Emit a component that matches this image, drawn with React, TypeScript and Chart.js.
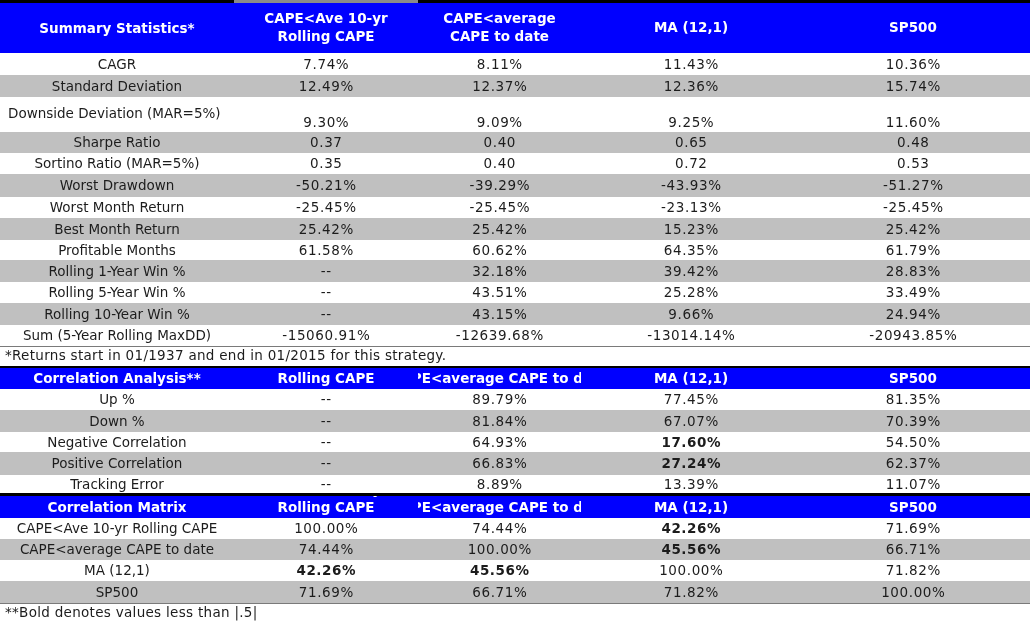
import React, { useEffect, useRef } from 'react';
import { Chart, registerables } from 'chart.js';

Chart.register(...registerables);

// ---------------- DATA ----------------
const strategyHeaders: string[][] = [
  ['CAPE<Ave 10-yr', 'Rolling CAPE'],
  ['CAPE<average', 'CAPE to date'],
  ['MA (12,1)'],
  ['SP500'],
];
const strategyHeadersOneLine: string[][] = [
  ['CAPE<Ave 10-yr', 'Rolling CAPE'],
  ['CAPE<average CAPE to date'],
  ['MA (12,1)'],
  ['SP500'],
];
const strategyNames = ['CAPE<Ave 10-yr Rolling CAPE', 'CAPE<average CAPE to date', 'MA (12,1)', 'SP500'];

const summaryTitle = 'Summary Statistics*';
const summaryLabels = [
  'CAGR',
  'Standard Deviation',
  'Downside Deviation (MAR=5%)',
  'Sharpe Ratio',
  'Sortino Ratio (MAR=5%)',
  'Worst Drawdown',
  'Worst Month Return',
  'Best Month Return',
  'Profitable Months',
  'Rolling 1-Year Win %',
  'Rolling 5-Year Win %',
  'Rolling 10-Year Win %',
  'Sum (5-Year Rolling MaxDD)',
];
const summaryIsRatio = [false, false, false, true, true, false, false, false, false, false, false, false, false];
const capeRolling10Summary = [7.74, 12.49, 9.3, 0.37, 0.35, -50.21, -25.45, 25.42, 61.58, null, null, null, -15060.91];
const capeAvgToDateSummary = [8.11, 12.37, 9.09, 0.4, 0.4, -39.29, -25.45, 25.42, 60.62, 32.18, 43.51, 43.15, -12639.68];
const ma121Summary = [11.43, 12.36, 9.25, 0.65, 0.72, -43.93, -23.13, 15.23, 64.35, 39.42, 25.28, 9.66, -13014.14];
const sp500Summary = [10.36, 15.74, 11.6, 0.48, 0.53, -51.27, -25.45, 25.42, 61.79, 28.83, 33.49, 24.94, -20943.85];
const summaryNote = '*Returns start in 01/1937 and end in 01/2015 for this strategy.';

const corrTitle = 'Correlation Analysis**';
const corrLabels = ['Up %', 'Down %', 'Negative Correlation', 'Positive Correlation', 'Tracking Error'];
const corrBoldRule = [false, false, true, true, false];
const capeRolling10Corr = [null, null, null, null, null];
const capeAvgToDateCorr = [89.79, 81.84, 64.93, 66.83, 8.89];
const ma121Corr = [77.45, 67.07, 17.6, 27.24, 13.39];
const sp500Corr = [81.35, 70.39, 54.5, 62.37, 11.07];

const matrixTitle = 'Correlation Matrix';
const matrixCapeRolling10 = [100.0, 74.44, 42.26, 71.69];
const matrixCapeAvgToDate = [74.44, 100.0, 45.56, 66.71];
const matrixMa121 = [42.26, 45.56, 100.0, 71.82];
const matrixSp500 = [71.69, 66.71, 71.82, 100.0];
const matrixNote = '**Bold denotes values less than |.5|';

// ---------------- LAYOUT / STYLE ----------------
const W = 1030;
const H = 623;
const colEdges = [0, 234, 418, 581, 801, 1025];
const BLUE = '#0000FF';
const GRAY = '#C0C0C0';
const TEXT = '#1c1c1c';
const FONT = '"DejaVu Sans", Verdana, sans-serif';
const FS = 13.5;

const fmtPct = (v: number | null) => (v === null ? '--' : v.toFixed(2) + '%');
const fmtNum = (v: number | null) => (v === null ? '--' : v.toFixed(2));

type Cell = { text: string; bold?: boolean };
type RowSpec =
  | { kind: 'rule'; h: number; color: string; col2Color?: string }
  | { kind: 'header'; h: number; title: string; cols: string[][] }
  | { kind: 'data'; h: number; bg: string; label: string; cells: Cell[]; leftLabel?: boolean; tall?: boolean }
  | { kind: 'note'; h: number; text: string };

const summaryHeights = [22, 22, 35, 21, 21, 23, 21, 22, 20, 22, 21, 22, 21];
const corrHeights = [21, 22, 20, 23, 18];
const matrixHeights = [21, 21, 21, 22];

function buildRows(): RowSpec[] {
  const rows: RowSpec[] = [];
  rows.push({ kind: 'rule', h: 3, color: '#000000', col2Color: '#8a8a8a' });
  rows.push({ kind: 'header', h: 50, title: summaryTitle, cols: strategyHeaders });
  const sCols = [capeRolling10Summary, capeAvgToDateSummary, ma121Summary, sp500Summary];
  summaryLabels.forEach((label, i) => {
    const f = summaryIsRatio[i] ? fmtNum : fmtPct;
    rows.push({
      kind: 'data',
      h: summaryHeights[i],
      bg: i % 2 === 1 ? GRAY : '#FFFFFF',
      label,
      cells: sCols.map((c) => ({ text: f(c[i] as number | null) })),
      leftLabel: i === 2,
      tall: i === 2,
    });
  });
  rows.push({ kind: 'rule', h: 1, color: '#7a7a7a' });
  rows.push({ kind: 'note', h: 19, text: summaryNote });
  rows.push({ kind: 'rule', h: 2, color: '#000000' });
  rows.push({ kind: 'header', h: 21, title: corrTitle, cols: strategyHeadersOneLine });
  const cCols = [capeRolling10Corr, capeAvgToDateCorr, ma121Corr, sp500Corr];
  corrLabels.forEach((label, i) => {
    rows.push({
      kind: 'data',
      h: corrHeights[i],
      bg: i % 2 === 1 ? GRAY : '#FFFFFF',
      label,
      cells: cCols.map((c) => {
        const v = c[i] as number | null;
        return { text: fmtPct(v), bold: corrBoldRule[i] && v !== null && v < 50 };
      }),
    });
  });
  rows.push({ kind: 'rule', h: 3, color: '#000000' });
  rows.push({ kind: 'header', h: 22, title: matrixTitle, cols: strategyHeadersOneLine });
  const mCols = [matrixCapeRolling10, matrixCapeAvgToDate, matrixMa121, matrixSp500];
  strategyNames.forEach((label, i) => {
    rows.push({
      kind: 'data',
      h: matrixHeights[i],
      bg: i % 2 === 1 ? GRAY : '#FFFFFF',
      label,
      cells: mCols.map((c) => ({ text: fmtPct(c[i]), bold: c[i] < 50 })),
    });
  });
  rows.push({ kind: 'rule', h: 1, color: '#7a7a7a' });
  rows.push({ kind: 'note', h: 19, text: matrixNote });
  return rows;
}

const tablePlugin = {
  id: 'tablePlugin',
  afterDraw(chart: any) {
    const ctx: any = chart.ctx;
    const xs = chart.scales.x;
    const ys = chart.scales.y;
    const X = (v: number) => xs.getPixelForValue(v);
    const Y = (v: number) => ys.getPixelForValue(v);
    const rows = buildRows();
    const left = X(0);
    const right = X(W);

    ctx.save();
    ctx.fillStyle = '#FFFFFF';
    ctx.fillRect(left, Y(0), right - left, Y(H) - Y(0));

    let y0 = 0;
    for (const r of rows) {
      const top = Y(y0);
      const bot = Y(y0 + r.h);
      const mid = (top + bot) / 2;
      ctx.letterSpacing = '0px';
      if (r.kind === 'rule') {
        ctx.fillStyle = r.color;
        ctx.fillRect(left, top, right - left, bot - top);
        if (r.col2Color) {
          ctx.fillStyle = r.col2Color;
          ctx.fillRect(X(colEdges[1]), top, X(colEdges[2]) - X(colEdges[1]), bot - top);
        }
      } else if (r.kind === 'header') {
        ctx.fillStyle = BLUE;
        ctx.fillRect(left, top, right - left, bot - top);
        ctx.fillStyle = '#FFFFFF';
        ctx.font = `bold ${FS}px ${FONT}`;
        ctx.textAlign = 'center';
        ctx.textBaseline = 'middle';
        ctx.fillText(r.title, (X(colEdges[0]) + X(colEdges[1])) / 2, mid + 1);
        r.cols.forEach((lines, ci) => {
          const cl = X(colEdges[ci + 1]);
          const cr = X(colEdges[ci + 2]);
          ctx.save();
          ctx.beginPath();
          ctx.rect(cl, top, cr - cl, bot - top);
          ctx.clip();
          const lh = 18;
          const n = lines.length;
          lines.forEach((ln, li) => {
            let ty: number;
            if (r.h > 30) ty = mid + (li - (n - 1) / 2) * lh;
            else ty = mid + 1 - (n - 1 - li) * lh;
            ctx.fillText(ln, (cl + cr) / 2, ty);
          });
          ctx.restore();
        });
      } else if (r.kind === 'data') {
        ctx.fillStyle = r.bg;
        ctx.fillRect(left, top, right - left, bot - top);
        ctx.fillStyle = TEXT;
        ctx.textBaseline = 'middle';
        ctx.font = `${FS}px ${FONT}`;
        const labelY = r.tall ? top + 17 : mid + 1;
        const valueY = r.tall ? bot - 8.5 : mid + 1;
        if (r.leftLabel) {
          ctx.textAlign = 'left';
          ctx.fillText(r.label, X(colEdges[0]) + 8, labelY);
        } else {
          ctx.textAlign = 'center';
          ctx.fillText(r.label, (X(colEdges[0]) + X(colEdges[1])) / 2, labelY);
        }
        ctx.textAlign = 'center';
        ctx.letterSpacing = '0.6px';
        r.cells.forEach((c, ci) => {
          ctx.font = `${c.bold ? 'bold ' : ''}${FS}px ${FONT}`;
          ctx.fillText(c.text, (X(colEdges[ci + 1]) + X(colEdges[ci + 2])) / 2 + 0.3, valueY);
        });
        ctx.letterSpacing = '0px';
      } else if (r.kind === 'note') {
        ctx.fillStyle = '#FFFFFF';
        ctx.fillRect(left, top, right - left, bot - top);
        ctx.fillStyle = TEXT;
        ctx.font = `${FS}px ${FONT}`;
        ctx.textAlign = 'left';
        ctx.textBaseline = 'middle';
        ctx.letterSpacing = '0.3px';
        ctx.fillText(r.text, X(colEdges[0]) + 5, mid);
        ctx.letterSpacing = '0px';
      }
      y0 += r.h;
    }
    ctx.restore();
  },
};

export default function App() {
  const ref = useRef<HTMLCanvasElement | null>(null);
  useEffect(() => {
    if (!ref.current) return;
    const chart = new Chart(ref.current, {
      type: 'scatter',
      data: { datasets: [{ data: [], pointRadius: 0 }] },
      options: {
        animation: false,
        responsive: false,
        maintainAspectRatio: false,
        devicePixelRatio: 1,
        layout: { padding: 0 },
        plugins: { legend: { display: false }, tooltip: { enabled: false }, title: { display: false } },
        scales: {
          x: { type: 'linear', min: 0, max: W, display: false },
          y: { type: 'linear', min: 0, max: H, reverse: true, display: false },
        },
      },
      plugins: [tablePlugin],
    });
    return () => chart.destroy();
  }, []);
  return (
    <div style={{ position: 'absolute', left: 0, top: 0, width: W, height: H, background: '#fff' }}>
      <canvas ref={ref} width={W} height={H} style={{ display: 'block', width: W, height: H }} />
    </div>
  );
}
